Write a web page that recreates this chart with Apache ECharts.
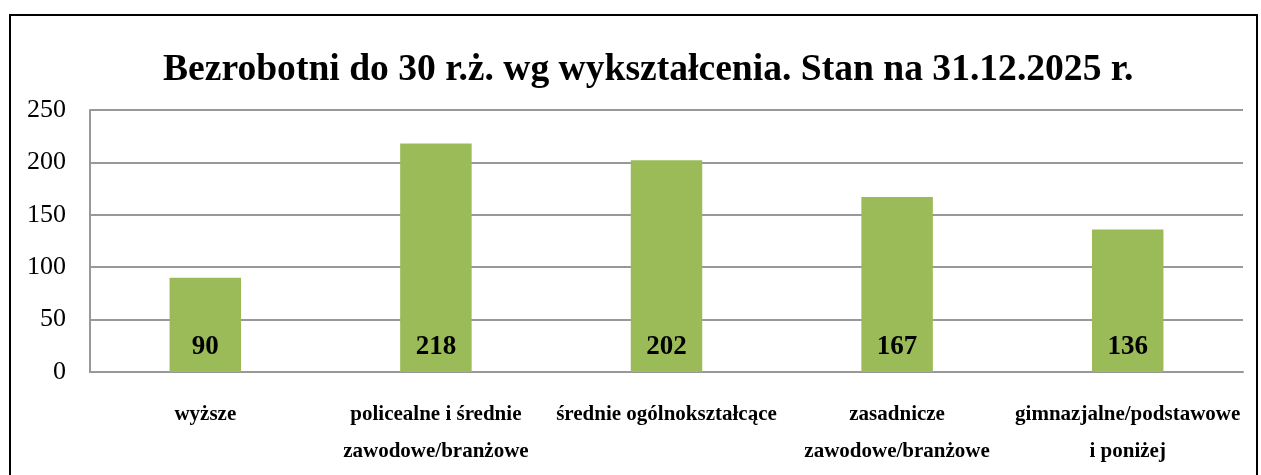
<!DOCTYPE html>
<html>
<head>
<meta charset="utf-8">
<script src="https://cdn.jsdelivr.net/npm/echarts@6/dist/echarts.min.js"></script>
<style>
  html, body { margin: 0; padding: 0; background: #fff; }
  #main { width: 1261px; height: 475px; }
</style>
</head>
<body>
<div id="main"></div>
<script>
// dane wykresu
const titleText = "Bezrobotni do 30 r.ż. wg wykształcenia. Stan na 31.12.2025 r.";
const categories = [
  "wyższe",
  "policealne i średnie\nzawodowe/branżowe",
  "średnie ogólnokształcące",
  "zasadnicze\nzawodowe/branżowe",
  "gimnazjalne/podstawowe\ni poniżej"
];
const values = [90, 218, 202, 167, 136];

const serif = "'Liberation Serif', 'Times New Roman', serif";
const gridColor = "#989898";

let myChart = echarts.init(document.getElementById("main"));
let option = {
  animation: false,
  title: {
    text: titleText,
    left: 158,
    top: 46,
    textStyle: {
      fontFamily: serif,
      fontWeight: "bold",
      fontSize: 37.6,
      color: "#000"
    }
  },
  // ramka wykresu
  graphic: [
    {
      type: "rect",
      shape: { x: 10, y: 15, width: 1247, height: 500 },
      style: { fill: "none", stroke: "#000", lineWidth: 2 },
      silent: true
    }
  ],
  grid: {
    left: 90,
    right: 18,
    top: 110,
    bottom: 103
  },
  xAxis: {
    type: "category",
    data: categories,
    axisLine: { show: true, lineStyle: { color: gridColor, width: 2 } },
    axisTick: { show: false },
    axisLabel: {
      interval: 0,
      margin: 24,
      fontFamily: serif,
      fontWeight: "bold",
      fontSize: 21,
      lineHeight: 37,
      color: "#000"
    }
  },
  yAxis: {
    type: "value",
    min: 0,
    max: 250,
    interval: 50,
    axisLine: { show: true, lineStyle: { color: gridColor, width: 2 } },
    axisTick: { show: false },
    splitLine: { lineStyle: { color: gridColor, width: 2 } },
    axisLabel: {
      margin: 24,
      fontFamily: serif,
      fontSize: 26,
      color: "#000"
    }
  },
  series: [
    {
      type: "bar",
      data: values,
      barWidth: "31%",
      itemStyle: { color: "#9BBB59" },
      label: {
        show: true,
        position: "insideBottom",
        distance: 11,
        fontFamily: serif,
        fontWeight: "bold",
        fontSize: 27,
        color: "#000"
      }
    }
  ]
};
myChart.setOption(option);
</script>
</body>
</html>
